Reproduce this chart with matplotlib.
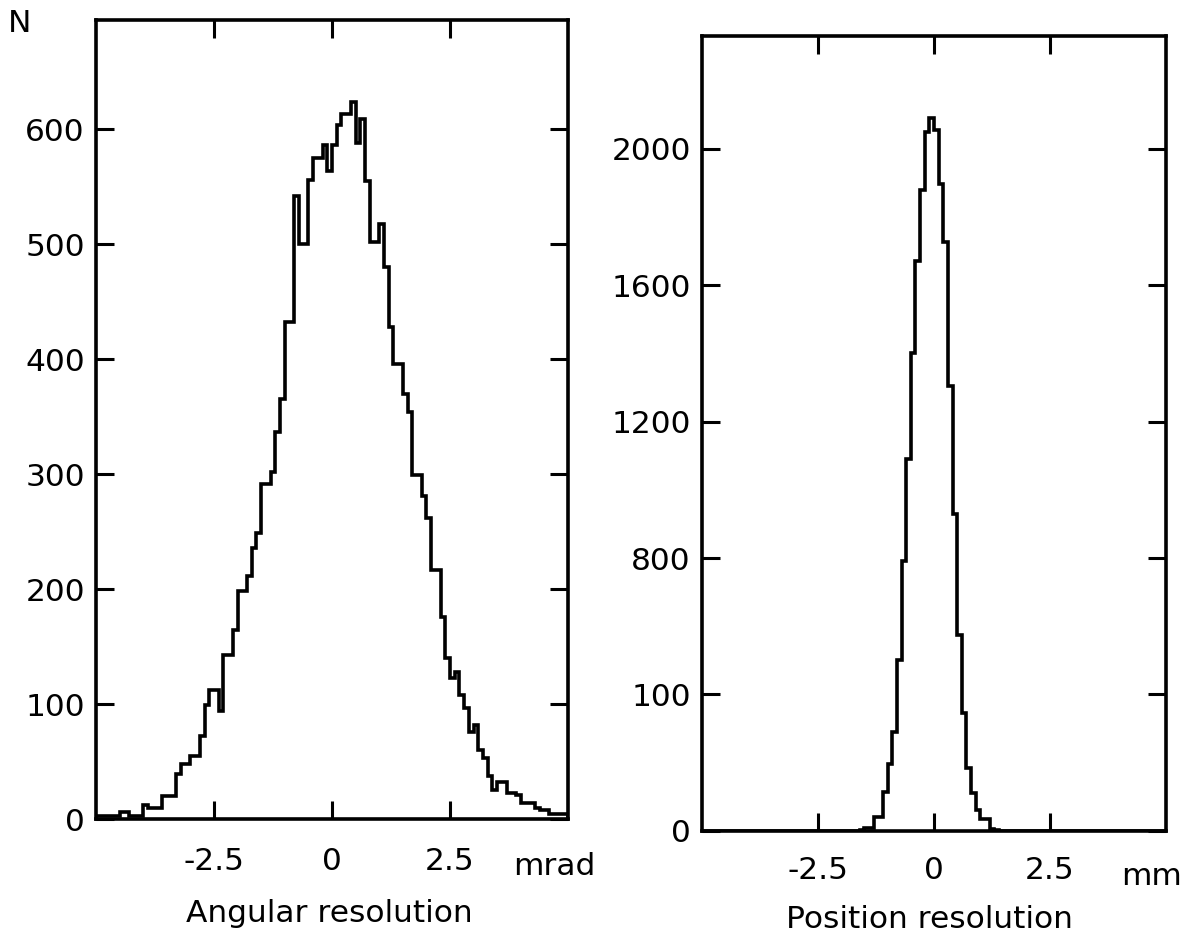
import numpy as np
import matplotlib.pyplot as plt

plt.rcParams['font.family'] = 'DejaVu Sans'

# histogram bins: 0.1 wide, from -5 to 5
bin_lo = -5.0
bin_w = 0.1

# angular resolution (mrad), counts per bin
ang_counts = [
    3, 3, 3, 3, 3, 6, 6, 3, 3, 3,
    12, 10, 10, 10, 20, 20, 20, 39, 48, 48,
    55, 55, 72, 99, 112, 112, 94, 143, 143, 164,
    198, 198, 211, 236, 249, 291, 291, 302, 337, 365,
    432, 432, 542, 500, 500, 556, 575, 575, 586, 564,
    586, 604, 613, 613, 624, 588, 609, 555, 502, 502,
    518, 480, 428, 396, 396, 370, 354, 299, 299, 281,
    262, 217, 217, 176, 140, 123, 128, 108, 97, 76,
    82, 60, 53, 37, 25, 32, 32, 23, 23, 21,
    14, 14, 14, 10, 8, 8, 4, 4, 4, 4,
]

# position resolution (mm)
pos_counts = [
    0, 0, 0, 0, 0, 0, 0, 0, 0, 0,
    0, 0, 0, 0, 0, 0, 0, 0, 0, 0,
    0, 0, 0, 0, 0, 0, 0, 0, 0, 0,
    0, 0, 0, 0, 3, 8, 8, 40, 40, 115,
    195, 290, 500, 790, 1090, 1400, 1670, 1880, 2050, 2090,
    2055, 1895, 1725, 1305, 930, 575, 345, 185, 110, 60,
    34, 34, 7, 3, 0, 0, 0, 0, 0, 0,
    0, 0, 0, 0, 0, 0, 0, 0, 0, 0,
    0, 0, 0, 0, 0, 0, 0, 0, 0, 0,
    0, 0, 0, 0, 0, 0, 0, 0, 0, 0,
]

xticks = [-2.5, 0, 2.5]
xtick_labels = ['-2.5', '0', '2.5']
ang_yticks = [0, 100, 200, 300, 400, 500, 600]
ang_ytick_labels = ['0', '100', '200', '300', '400', '500', '600']
pos_yticks = [0, 400, 800, 1200, 1600, 2000]
pos_ytick_labels = ['0', '100', '800', '1200', '1600', '2000']  # as printed

FS = 22.5


def draw_panel(ax, counts, ymax, yticks, ylabels, unit, title,
               unit_xy, title_xy, xpad):
    edges = np.round(bin_lo + bin_w * np.arange(len(counts) + 1), 2)
    ax.stairs(counts, edges, color='black', lw=2.6, baseline=0)
    ax.set_xlim(-5, 5)
    ax.set_ylim(0, ymax)
    ax.set_xticks(xticks, xtick_labels)
    ax.set_yticks(yticks, ylabels)
    ax.tick_params(direction='in', length=13, width=2.2, top=True,
                   right=True, labelsize=FS, colors='black')
    ax.tick_params(axis='x', pad=xpad)
    ax.tick_params(axis='y', pad=8)
    for sp in ax.spines.values():
        sp.set_linewidth(2.6)
    ax.text(unit_xy[0], unit_xy[1], unit, transform=ax.transAxes,
            ha='center', va='center', fontsize=FS)
    ax.text(title_xy[0], title_xy[1], title, transform=ax.transAxes,
            ha='center', va='center', fontsize=FS)


fig = plt.figure(figsize=(11.93, 9.4), dpi=100)
ax1 = fig.add_axes([0.0805, 0.1287, 0.3956, 0.85])
ax2 = fig.add_axes([0.5884, 0.116, 0.3890, 0.8457])

draw_panel(ax1, ang_counts, 695, ang_yticks, ang_ytick_labels, 'mrad',
           'Angular resolution', (0.970, -0.059), (0.494, -0.118), 20)
draw_panel(ax2, pos_counts, 2330, pos_yticks, pos_ytick_labels, 'mm',
           'Position resolution', (0.968, -0.057), (0.491, -0.111), 18)

fig.text(0.0168, 0.9755, 'N', ha='center', va='center', fontsize=FS)

fig.savefig('out.png', dpi=100)
